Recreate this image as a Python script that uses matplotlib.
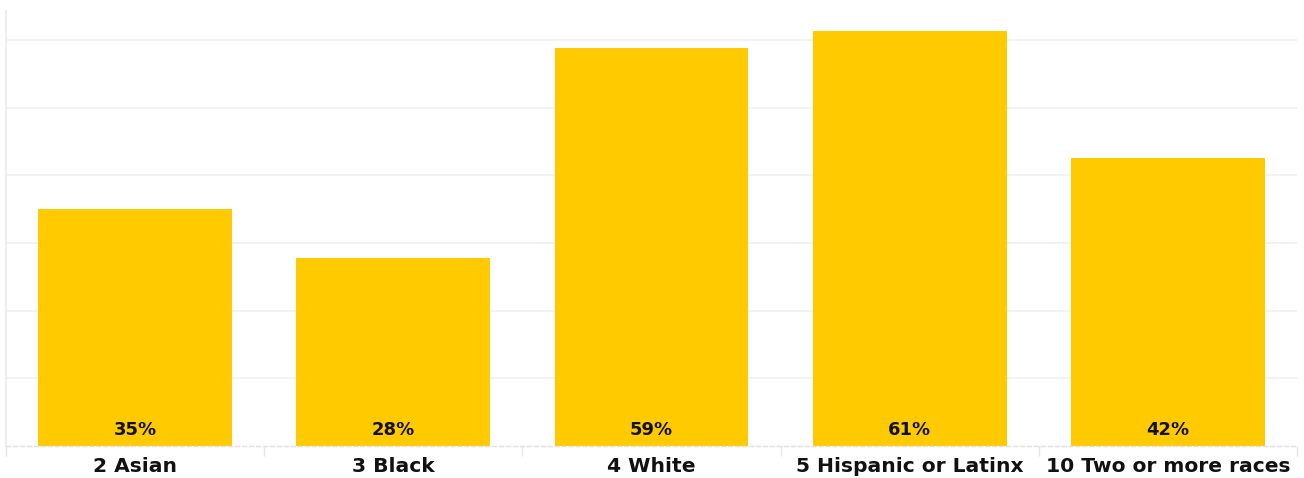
import matplotlib
matplotlib.use("Agg")
import matplotlib.pyplot as plt
import numpy as np

categories = ["2 Asian", "3 Black", "4 White", "5 Hispanic or Latinx", "10 Two or more races"]
values = [35.0, 27.8, 58.8, 61.3, 42.6]
value_labels = ["35%", "28%", "59%", "61%", "42%"]

W, H = 1304, 478
fig = plt.figure(figsize=(W / 100, H / 100), dpi=100)
left, right, bottom, top = 6 / W, 1297 / W, 1 - 446 / H, 1 - 11 / H
ax = fig.add_axes([left, bottom, right - left, top - bottom])

x = np.arange(len(categories))
ax.bar(x, values, width=0.75, color="#FFCA00", zorder=2)
ax.set_xlim(-0.5, len(categories) - 0.5)
ax.set_ylim(0, 64.3)

ax.set_yticks([10, 20, 30, 40, 50, 60])
ax.yaxis.grid(True, color="#F0F0F0", linewidth=1.2, zorder=0)
ax.tick_params(axis="y", length=0, labelleft=False)

ax.set_xticks(x)
ax.set_xticklabels(categories, fontsize=14.6, fontweight="bold", color="#111111")
ax.set_xticks(np.arange(len(categories) + 1) - 0.5, minor=True)
ax.tick_params(axis="x", which="major", length=0, pad=8)
ax.tick_params(axis="x", which="minor", length=7, color="#E6E6E6", width=1)

for s in ["top", "right"]:
    ax.spines[s].set_visible(False)
ax.spines["left"].set_color("#EEEEEE")
ax.spines["left"].set_linewidth(1.5)
ax.spines["bottom"].set_color("#E0E0E0")
ax.spines["bottom"].set_linestyle((0, (3, 2)))
ax.spines["bottom"].set_linewidth(1)

for xi, lab in zip(x, value_labels):
    ax.text(xi, 1.0, lab, ha="center", va="bottom", fontsize=13, fontweight="bold", color="#111111", zorder=3)

fig.savefig("out.png", dpi=100)
